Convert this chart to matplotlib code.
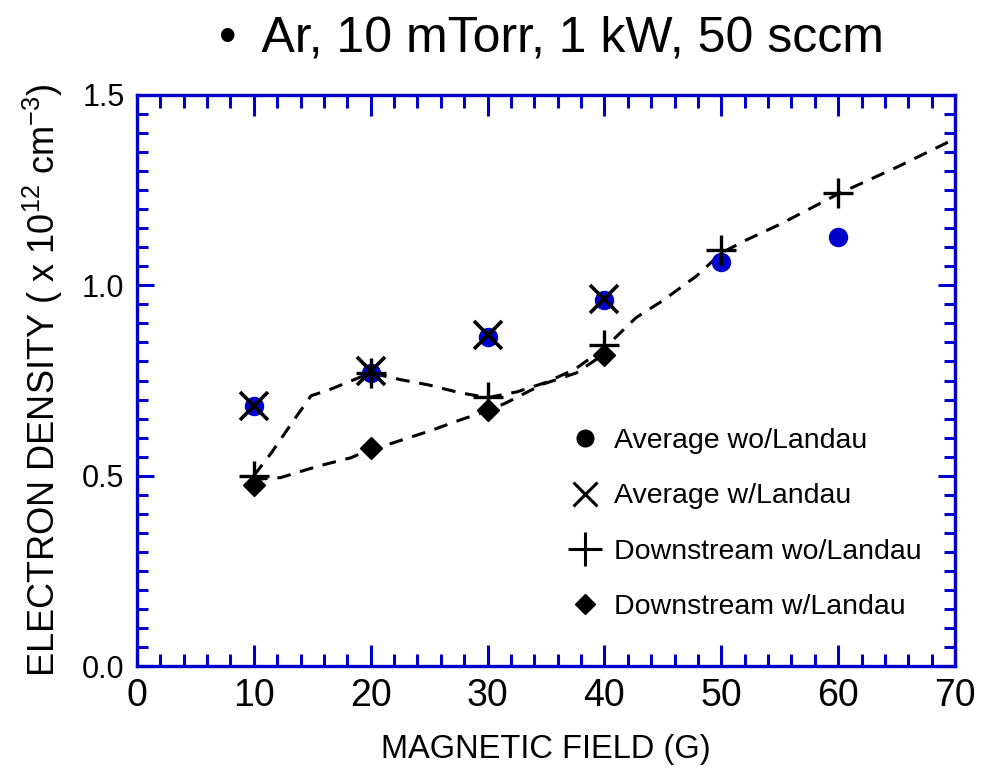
import matplotlib
matplotlib.use("Agg")
import matplotlib.pyplot as plt
from matplotlib.lines import Line2D
from matplotlib.ticker import MultipleLocator, FormatStrFormatter

# field values (G)
field = [10, 20, 30, 40, 50, 60]
field_short = [10, 20, 30, 40]

avg_wo_landau = [0.683, 0.770, 0.865, 0.961, 1.061, 1.127]
avg_w_landau = [0.683, 0.775, 0.870, 0.965]
down_wo_landau = [0.499, 0.770, 0.707, 0.843, 1.093, 1.242]
down_w_landau = [0.475, 0.572, 0.672, 0.817]

# dashed guide curves
upper_x = [10, 11.5, 13.4, 14.9, 16.4, 18, 20, 22.6, 25, 27.6, 30, 32.5, 35,
           37.5, 40, 42.7, 45, 47.9, 50, 52.2, 55, 60, 65, 70]
upper_y = [0.50, 0.56, 0.645, 0.71, 0.725, 0.745, 0.77, 0.752, 0.738, 0.718,
           0.705, 0.72, 0.745, 0.78, 0.835, 0.915, 0.96, 1.025, 1.085, 1.12,
           1.16, 1.24, 1.31, 1.385]
lower_x = [10, 12.3, 15.5, 18.3, 20, 21.8, 25, 28, 30, 31.5, 34.7, 37.6, 40]
lower_y = [0.49, 0.495, 0.525, 0.547, 0.57, 0.585, 0.617, 0.65, 0.67, 0.69,
           0.74, 0.77, 0.82]

legend_labels = ["Average wo/Landau", "Average w/Landau",
                 "Downstream wo/Landau", "Downstream w/Landau"]

BLUE = "#0000CC"

plt.rcParams.update({
    "font.family": ["Liberation Sans", "DejaVu Sans"],
    "mathtext.default": "regular",
})

fig = plt.figure(figsize=(9.92, 7.74), dpi=100)
ax = fig.add_axes([137 / 992, 1 - 666 / 774, 818 / 992, 571 / 774])

dash = (0, (4.5, 3.2))
ax.plot(upper_x, upper_y, color="black", lw=2.2, linestyle=dash, zorder=2)
ax.plot(lower_x, lower_y, color="black", lw=2.2, linestyle=dash, zorder=2)

ax.plot(field, avg_wo_landau, "o", color=BLUE, ms=13, mec=BLUE, zorder=3)
ax.plot(field_short, down_w_landau, "D", color="black", ms=11, zorder=4)
ax.plot(field, down_wo_landau, "+", color="black", ms=22, mew=2.4, zorder=5)
ax.plot(field_short, avg_w_landau, "x", color="black", ms=20, mew=2.6, zorder=6)

ax.set_xlim(0, 70)
ax.set_ylim(0, 1.5)
ax.xaxis.set_major_locator(MultipleLocator(10))
ax.xaxis.set_minor_locator(MultipleLocator(2))
ax.yaxis.set_major_locator(MultipleLocator(0.5))
ax.yaxis.set_minor_locator(MultipleLocator(0.05))
ax.yaxis.set_major_formatter(FormatStrFormatter("%.1f"))

for side in ax.spines.values():
    side.set_color(BLUE)
    side.set_linewidth(2.4)

ax.tick_params(which="both", direction="in", top=True, right=True,
               color=BLUE, width=2.2)
ax.tick_params(axis="x", which="major", length=15, labelsize=27, pad=9)
ax.tick_params(axis="x", which="minor", length=9)
ax.tick_params(axis="y", which="major", length=12, labelsize=22, pad=9)
ax.tick_params(axis="y", which="minor", length=8)

ax.set_xlabel("MAGNETIC FIELD (G)", fontsize=23.5, labelpad=14)
ax.set_ylabel("ELECTRON DENSITY ( x 10$^{12}$ cm$^{-3}$)", fontsize=26,
              labelpad=12)

fig.text(0.556, 0.95, "\u2022  Ar, 10 mTorr, 1 kW, 50 sccm", fontsize=36,
         ha="center", va="center")

handles = [
    Line2D([], [], marker="o", ls="none", color="black", ms=12),
    Line2D([], [], marker="x", ls="none", color="black", ms=17, mew=2.2),
    Line2D([], [], marker="+", ls="none", color="black", ms=24, mew=2.2),
    Line2D([], [], marker="D", ls="none", color="black", ms=10),
]
ax.legend(handles, legend_labels, loc="upper left",
          bbox_to_anchor=(0.52, 0.436), frameon=False, fontsize=20.5,
          labelspacing=1.02, handlelength=0.8, handletextpad=0.62,
          borderaxespad=0)

fig.savefig("out.png", dpi=100)
